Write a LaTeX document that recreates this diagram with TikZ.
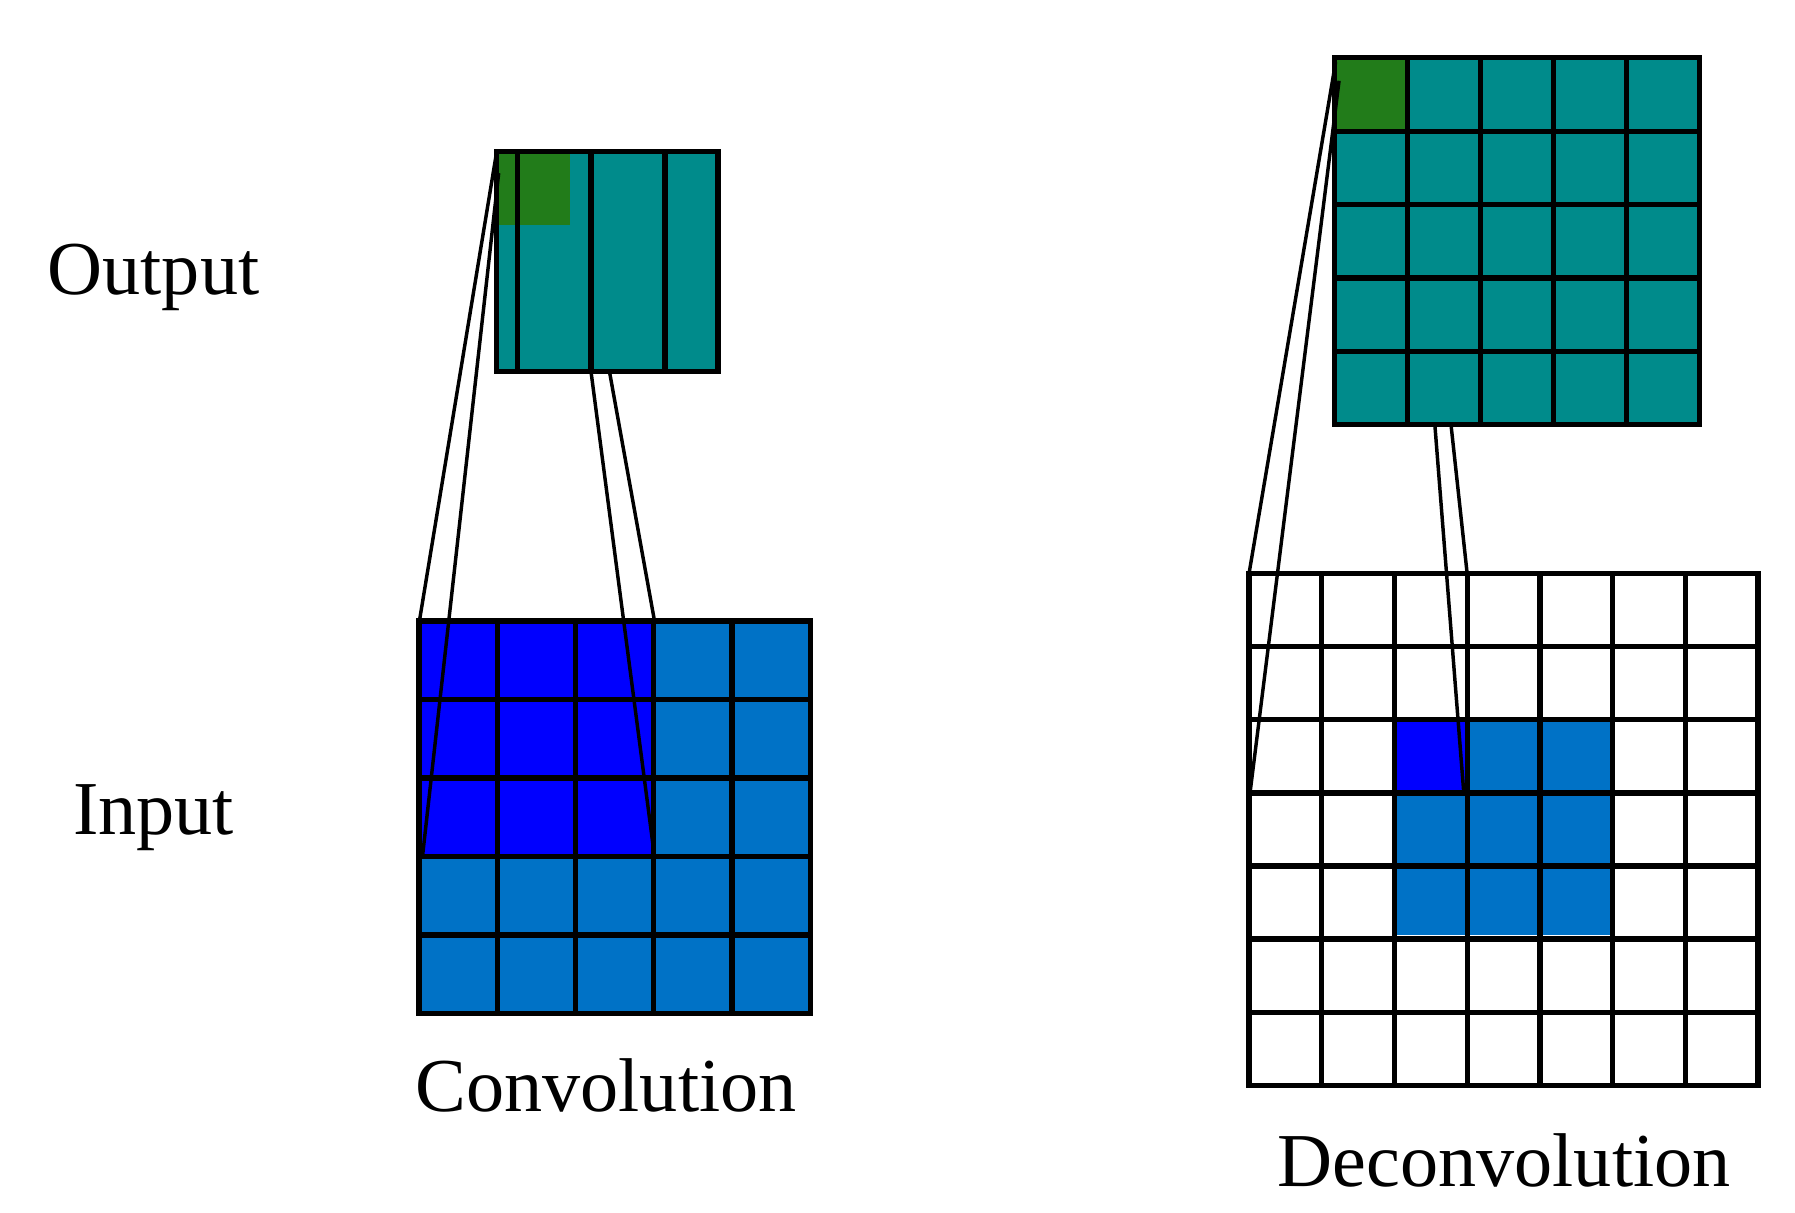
\documentclass[tikz,border=0pt]{standalone}
\usepackage{fontspec}
\setmainfont{Liberation Serif}
\definecolor{teal1}{RGB}{0,139,139}
\definecolor{grn}{RGB}{34,124,26}
\definecolor{blu}{RGB}{0,0,255}
\definecolor{mblu}{RGB}{0,114,198}
\begin{document}
\begin{tikzpicture}[x=1pt,y=-1pt,line width=4.5pt,
  lbl/.style={font=\fontsize{66}{76}\selectfont,inner sep=0pt},
  conn/.style={line width=3pt}]
\useasboundingbox (0,0) rectangle (1555,1050);
% conv output
\fill[teal1] (430,131) rectangle (622,322);
\fill[grn] (430,131) rectangle (494,195);
\draw (430,131) grid[step=64] (622,322);
\draw (430,131) rectangle (622,322);
% conv input
\fill[mblu] (363,538) rectangle (702,878);
\fill[blu] (363,538) rectangle (567,742);
\foreach \i in {1,...,4}{\draw (363+\i*67.8,538) -- (363+\i*67.8,878); \draw (363,538+\i*68) -- (702,538+\i*68);}
\draw (363,538) rectangle (702,878);
% conv connectors
\coordinate (co) at (430,133);
\draw[conn] (co) -- (363,540);
\draw[conn] (432,150) -- (366,742);
\draw[conn] (512,322) -- (567,742);
\draw[conn] (528,322) -- (567,538);
% deconv output
\fill[teal1] (1156,50) rectangle (1472,368);
\fill[grn] (1156,50) rectangle (1219,113);
\foreach \i in {1,...,4}{\draw (1156+\i*63.2,50) -- (1156+\i*63.2,368); \draw (1156,50+\i*63.6) -- (1472,50+\i*63.6);}
\draw (1156,50) rectangle (1472,368);
% deconv input
\fill[mblu] (1208,623) rectangle (1397,810);
\fill[blu] (1208,623) rectangle (1271,686);
\foreach \i in {1,...,6}{\draw (1082+\i*63,497) -- (1082+\i*63,940); \draw (1082,497+\i*63.3) -- (1523,497+\i*63.3);}
\draw (1082,497) rectangle (1523,940);
% deconv connectors
\draw[conn] (1157,54) -- (1082,497);
\draw[conn] (1160,70) -- (1083,686);
\draw[conn] (1243,368) -- (1268,686);
\draw[conn] (1257,368) -- (1271,497);
% labels
\node[lbl] (out) at (133,240) {Output};
\node[lbl] (inp) at (133,708) {Input};
\node[lbl] (cv) at (525,940) {Convolution};
\node[lbl] (dcv) at (1303,1005) {Deconvolution};
\end{tikzpicture}
\end{document}
